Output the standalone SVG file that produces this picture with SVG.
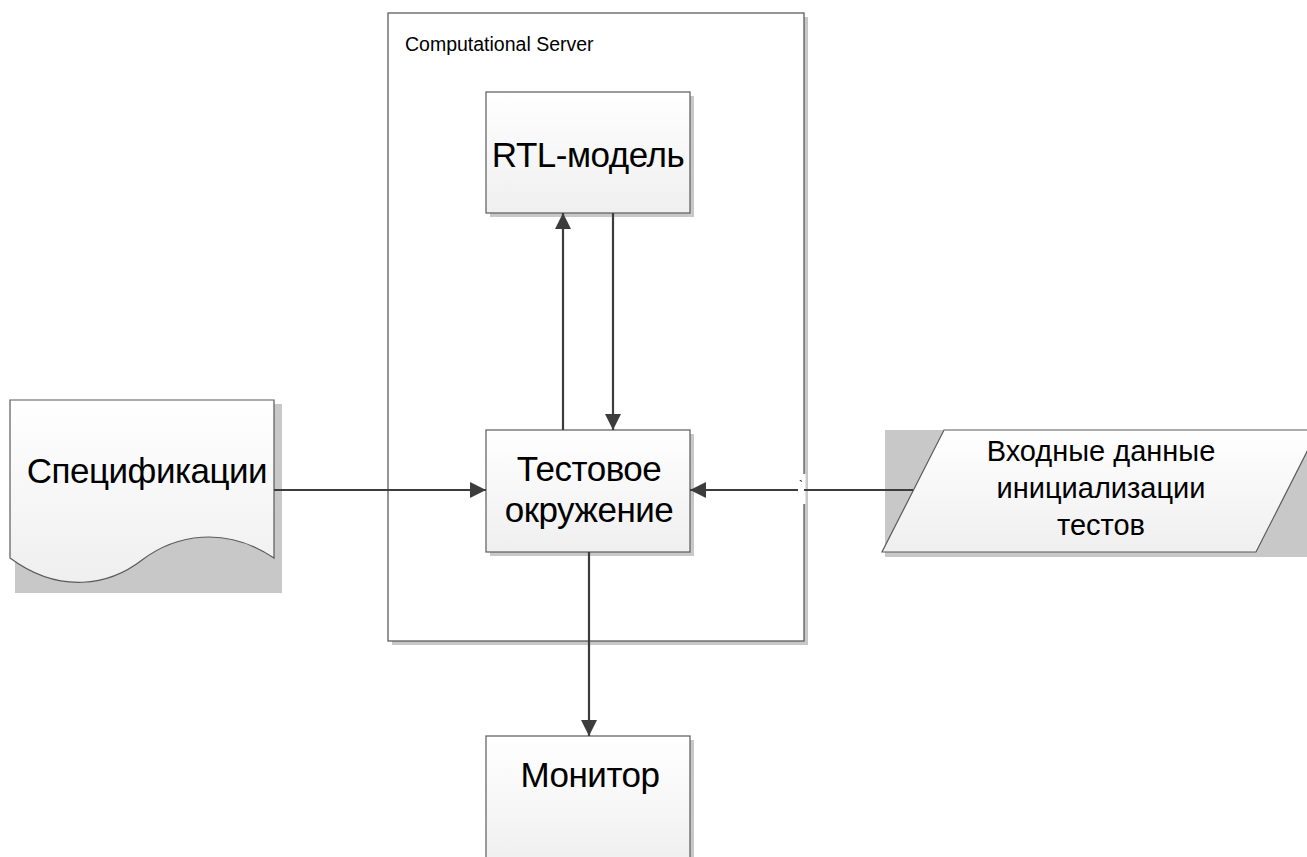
<svg xmlns="http://www.w3.org/2000/svg" width="1307" height="857" viewBox="0 0 1307 857">
<defs>
<linearGradient id="g" x1="0" y1="0" x2="0" y2="1">
<stop offset="0" stop-color="#ffffff"/>
<stop offset="1" stop-color="#efefef"/>
</linearGradient>
<marker id="ah" viewBox="0 0 16 16" refX="16" refY="8" markerWidth="16" markerHeight="16" markerUnits="userSpaceOnUse" orient="auto">
<path d="M0,0 L16,8 L0,16 Z" fill="#3c3c3c"/>
</marker>
<style>
.sh{fill:#c8c8c8;stroke:none}
.box{fill:url(#g);stroke:#5a5a5a;stroke-width:1.2}
.t{font-family:"Liberation Sans",Arial,sans-serif;fill:#000;text-anchor:middle}
.big{font-size:35px;letter-spacing:-0.5px}
.con{stroke:#3c3c3c;stroke-width:2.2;fill:none}
</style>
</defs>
<rect width="1307" height="857" fill="#ffffff"/>

<g id="server">
<rect class="sh" x="392" y="17" width="416" height="628"/>
<rect x="388" y="13" width="416" height="628" fill="#ffffff" stroke="#505050" stroke-width="1.2"/>
<text x="405" y="51" font-family="'Liberation Sans',Arial,sans-serif" font-size="19.5" fill="#000">Computational Server</text>
</g>

<g id="rtl">
<rect class="sh" x="490" y="96" width="204" height="121"/>
<rect class="box" x="486" y="92" width="204" height="121"/>
<text class="t big" x="588" y="167" letter-spacing="-1">RTL-модель</text>
</g>

<g id="testenv">
<rect class="sh" x="490" y="434" width="204" height="122"/>
<rect class="box" x="486" y="430" width="204" height="122"/>
<text class="t big" x="589" y="481">Тестовое</text>
<text class="t big" x="589" y="522">окружение</text>
</g>

<g id="spec">
<rect class="sh" x="15" y="404" width="267" height="189"/>
<path class="box" d="M10,400 H274 V558 C225,525 175,535 142,560 C110,585 60,595 10,558 Z"/>
<text class="t big" x="147" y="483">Спецификации</text>
</g>

<g id="input">
<rect class="sh" x="885" y="430" width="430" height="127"/>
<path class="box" d="M944,430 H1318 L1256,552 H882 Z"/>
<text class="t" x="1101" y="461" font-size="29">Входные данные</text>
<text class="t" x="1101" y="498" font-size="29">инициализации</text>
<text class="t" x="1101" y="535" font-size="29">тестов</text>
</g>

<g id="monitor">
<rect class="sh" x="490" y="740" width="204" height="130"/>
<rect class="box" x="486" y="736" width="204" height="130"/>
<text class="t big" x="590" y="787">Монитор</text>
</g>

<g id="connectors">
<line class="con" x1="563" y1="430" x2="563" y2="213" marker-end="url(#ah)"/>
<line class="con" x1="613" y1="213" x2="613" y2="430" marker-end="url(#ah)"/>
<line class="con" x1="274" y1="490" x2="486" y2="490" marker-end="url(#ah)"/>
<rect x="797" y="474" width="8.5" height="30" fill="#ffffff"/>
<line class="con" x1="913" y1="490" x2="804" y2="490"/>
<line class="con" x1="798" y1="490" x2="690" y2="490" marker-end="url(#ah)"/>
<text x="799" y="490" font-family="'Liberation Sans',Arial,sans-serif" font-size="12" fill="#000">`</text>
<line class="con" x1="589" y1="552" x2="589" y2="736" marker-end="url(#ah)"/>
</g>
</svg>
